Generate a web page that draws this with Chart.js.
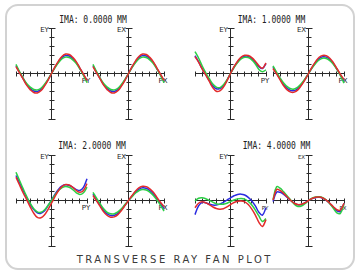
<!DOCTYPE html>
<html>
<head>
<meta charset="utf-8">
<script src="https://cdn.jsdelivr.net/npm/chart.js@4.4.0/dist/chart.umd.min.js"></script>
<style>
html, body { margin: 0; padding: 0; background: #fff; }
#wrap { position: relative; width: 360px; height: 273px; overflow: hidden; }
#frame { position: absolute; left: 5px; top: 4px; width: 346px; height: 262px; border: 2px solid #d2d2d2; border-radius: 13px; }
.t { position: absolute; white-space: nowrap; color: #222; transform: translate(-50%, -50%); line-height: 1; }
.ima { font: 8px "DejaVu Sans Mono"; transform: translate(-50%, -50%) scaleY(1.4); }
.ax { font: 7px "DejaVu Sans"; }
.ax.small { font-size: 5.5px; }
.title { font: 10px "DejaVu Sans"; letter-spacing: 2.5px; padding-left: 2.5px; color: #3a3a3a; }
canvas { position: absolute; z-index: 1; }
</style>
</head>
<body>
<div id="wrap">
  <div id="frame"></div>
</div>
<script>
// pupil coordinate (axis ticks -5..5)
const PUPIL = [-5, -4.5, -4, -3.5, -3, -2.5, -2, -1.5, -1, -0.5, 0, 0.5, 1, 1.5, 2, 2.5, 3, 3.5, 4, 4.5, 5];

// IMA 0.0000 MM (EY and EX look the same)
const ima0Red   = [0.75, 0.07, -0.6, -1.28, -1.77, -2.09, -2.14, -1.9, -1.39, -0.75, 0, 0.75, 1.39, 1.9, 2.14, 2.09, 1.77, 1.28, 0.6, -0.07, -0.75];
const ima0Green = [1.0, 0.2, -0.5, -1.1, -1.5, -1.75, -1.8, -1.62, -1.2, -0.65, 0, 0.65, 1.2, 1.62, 1.8, 1.75, 1.5, 1.1, 0.5, -0.2, -1.0];
const ima0Blue  = [0.85, 0.12, -0.55, -1.2, -1.65, -1.92, -1.97, -1.77, -1.3, -0.7, 0, 0.7, 1.3, 1.77, 1.97, 1.92, 1.65, 1.2, 0.55, -0.12, -0.85];

// IMA 1.0000 MM
const ima1EyRed   = [1.85, 1.25, 0.5, -0.15, -0.85, -1.55, -1.95, -1.9, -1.5, -0.8, 0, 0.75, 1.35, 1.8, 2.0, 1.98, 1.75, 1.35, 0.85, 0.58, 1.15];
const ima1EyGreen = [2.4, 1.7, 0.85, 0.1, -0.55, -1.15, -1.5, -1.55, -1.25, -0.7, 0, 0.65, 1.2, 1.6, 1.78, 1.75, 1.5, 1.05, 0.45, 0.2, 0.4];
const ima1EyBlue  = [1.95, 1.3, 0.55, -0.1, -0.75, -1.35, -1.68, -1.65, -1.35, -0.75, 0, 0.7, 1.3, 1.72, 1.9, 1.88, 1.62, 1.2, 0.75, 0.55, 1.1];
const ima1ExRed   = [0.55, -0.05, -0.7, -1.35, -1.8, -2.05, -2.05, -1.8, -1.3, -0.7, 0, 0.7, 1.3, 1.78, 1.98, 1.95, 1.68, 1.2, 0.55, -0.1, -0.65];
const ima1ExGreen = [0.85, 0.15, -0.5, -1.05, -1.45, -1.68, -1.7, -1.5, -1.1, -0.6, 0, 0.6, 1.1, 1.5, 1.68, 1.65, 1.42, 1.02, 0.45, -0.25, -1.05];
const ima1ExBlue  = [0.7, 0.05, -0.6, -1.2, -1.62, -1.86, -1.88, -1.65, -1.2, -0.65, 0, 0.65, 1.2, 1.64, 1.83, 1.8, 1.55, 1.1, 0.5, -0.17, -0.85];

// IMA 2.0000 MM
const ima2EyRed   = [2.56, 1.7, 0.85, 0.1, -0.7, -1.4, -1.85, -1.9, -1.6, -1.0, -0.3, 0.45, 1.1, 1.55, 1.75, 1.7, 1.45, 1.1, 0.9, 1.1, 1.85];
const ima2EyGreen = [3.1, 2.2, 1.3, 0.45, -0.3, -0.9, -1.25, -1.3, -1.05, -0.55, 0, 0.6, 1.1, 1.42, 1.55, 1.45, 1.2, 0.85, 0.66, 0.85, 1.46];
const ima2EyBlue  = [2.75, 1.95, 1.1, 0.35, -0.4, -1.0, -1.35, -1.4, -1.15, -0.6, 0.05, 0.7, 1.25, 1.6, 1.72, 1.65, 1.45, 1.2, 1.1, 1.45, 2.4];
const ima2ExRed   = [0.55, -0.05, -0.65, -1.25, -1.65, -1.83, -1.8, -1.55, -1.1, -0.57, 0, 0.55, 1.05, 1.42, 1.57, 1.52, 1.28, 0.9, 0.35, -0.2, -0.66];
const ima2ExGreen = [0.9, 0.25, -0.35, -0.9, -1.3, -1.46, -1.45, -1.25, -0.9, -0.45, 0, 0.42, 0.82, 1.1, 1.2, 1.15, 0.92, 0.55, 0.05, -0.5, -1.17];
const ima2ExBlue  = [0.7, 0.08, -0.5, -1.08, -1.48, -1.65, -1.63, -1.4, -1.0, -0.5, 0, 0.48, 0.93, 1.26, 1.4, 1.34, 1.1, 0.72, 0.2, -0.35, -0.9];

// IMA 4.0000 MM
const ima4EyRed   = [-0.8, -0.3, -0.15, -0.25, -0.45, -0.7, -0.88, -0.95, -0.9, -0.7, -0.45, -0.22, -0.08, -0.05, -0.15, -0.45, -0.95, -1.6, -2.4, -2.85, -2.1];
const ima4EyGreen = [-0.05, 0.25, 0.3, 0.2, 0.02, -0.18, -0.35, -0.42, -0.4, -0.3, -0.12, 0.05, 0.18, 0.22, 0.15, -0.1, -0.5, -1.05, -1.7, -2.3, -2.0];
const ima4EyBlue  = [-1.55, -0.6, -0.2, -0.25, -0.4, -0.5, -0.5, -0.4, -0.2, 0.05, 0.3, 0.52, 0.67, 0.7, 0.6, 0.35, -0.05, -0.6, -1.3, -1.6, -0.8];
const ima4ExRed   = [0.05, 1.2, 1.1, 0.78, 0.38, 0.0, -0.3, -0.45, -0.42, -0.25, 0, 0.22, 0.35, 0.38, 0.28, 0.05, -0.3, -0.68, -1.02, -1.05, -0.3];
const ima4ExGreen = [0.1, 1.5, 1.35, 0.95, 0.5, 0.05, -0.4, -0.65, -0.6, -0.35, 0, 0.25, 0.38, 0.4, 0.3, 0.05, -0.35, -0.85, -1.35, -1.4, -0.4];
const ima4ExBlue  = [-0.1, 0.9, 0.9, 0.68, 0.35, 0.0, -0.3, -0.48, -0.45, -0.25, 0, 0.2, 0.33, 0.35, 0.25, 0.02, -0.32, -0.75, -1.15, -1.2, -0.3];

const RED = '#e32b2b';
const GREEN = '#2ccf45';
const BLUE = '#2b2be0';

// cx, cy = pixel where the two axes cross
const plots = [
  { cx: 51,  cy: 73,  axis: 'EY', fan: 'PY', red: ima0Red,   green: ima0Green,   blue: ima0Blue },
  { cx: 128, cy: 73,  axis: 'EX', fan: 'PX', red: ima0Red,   green: ima0Green,   blue: ima0Blue },
  { cx: 230, cy: 73,  axis: 'EY', fan: 'PY', red: ima1EyRed, green: ima1EyGreen, blue: ima1EyBlue },
  { cx: 308, cy: 73,  axis: 'EX', fan: 'PX', red: ima1ExRed, green: ima1ExGreen, blue: ima1ExBlue },
  { cx: 51,  cy: 200, axis: 'EY', fan: 'PY', red: ima2EyRed, green: ima2EyGreen, blue: ima2EyBlue },
  { cx: 128, cy: 200, axis: 'EX', fan: 'PX', red: ima2ExRed, green: ima2ExGreen, blue: ima2ExBlue },
  { cx: 230, cy: 200, axis: 'EY', fan: 'PY', red: ima4EyRed, green: ima4EyGreen, blue: ima4EyBlue, small: true },
  { cx: 308, cy: 200, axis: 'EX', fan: 'PX', red: ima4ExRed, green: ima4ExGreen, blue: ima4ExBlue, small: true }
];

const titles = [
  { text: 'IMA: 0.0000 MM', x: 93, y: 18.5 },
  { text: 'IMA: 1.0000 MM', x: 271.5, y: 18.5 },
  { text: 'IMA: 2.0000 MM', x: 92, y: 144.5 },
  { text: 'IMA: 4.0000 MM', x: 276.5, y: 144.5 }
];

const PAD = 8;
const HALF_W = 35.5;
const HALF_H = 45.5;

// draws the cross-shaped axes with ticks, behind the curves
const crossAxes = {
  id: 'crossAxes',
  beforeDatasetsDraw(chart) {
    const ctx = chart.ctx;
    const x = chart.scales.x, y = chart.scales.y;
    const x0 = Math.floor(x.getPixelForValue(0)) + 0.5;
    const y0 = Math.floor(y.getPixelForValue(0)) + 0.5;
    ctx.save();
    ctx.strokeStyle = '#2a2a2a';
    ctx.lineWidth = 1;
    ctx.beginPath();
    ctx.moveTo(x.getPixelForValue(-5), y0);
    ctx.lineTo(x.getPixelForValue(5), y0);
    ctx.moveTo(x0, y.getPixelForValue(5));
    ctx.lineTo(x0, y.getPixelForValue(-5));
    for (let i = -5; i <= 5; i++) {
      if (i === 0) continue;
      const px = Math.floor(x.getPixelForValue(i)) + 0.5;
      ctx.moveTo(px, y0 - 2);
      ctx.lineTo(px, y0 + 3);
      const py = Math.floor(y.getPixelForValue(i)) + 0.5;
      const w = Math.abs(i) === 5 ? 3 : 2;
      ctx.moveTo(x0 - w, py);
      ctx.lineTo(x0 + w + 1, py);
    }
    ctx.stroke();
    ctx.restore();
  }
};

const wrap = document.getElementById('wrap');

function addText(cls, text, x, y) {
  const d = document.createElement('div');
  d.className = 't ' + cls;
  d.textContent = text;
  d.style.left = x + 'px';
  d.style.top = y + 'px';
  wrap.appendChild(d);
}

titles.forEach(t => addText('ima', t.text, t.x, t.y));
addText('title', 'TRANSVERSE RAY FAN PLOT', 173.5, 259);

function series(vals, color) {
  return {
    data: PUPIL.map((p, i) => ({ x: p, y: vals[i] })),
    showLine: true,
    borderColor: color,
    borderWidth: 1.5,
    pointRadius: 0,
    tension: 0.4,
    clip: false
  };
}

plots.forEach(p => {
  const c = document.createElement('canvas');
  const w = 2 * HALF_W + 2 * PAD, h = 2 * HALF_H + 2 * PAD;
  c.width = w;
  c.height = h;
  c.style.width = w + 'px';
  c.style.height = h + 'px';
  c.style.left = (p.cx - 35 - PAD) + 'px';
  c.style.top = (p.cy - 45 - PAD) + 'px';
  wrap.appendChild(c);

  addText('ax' + (p.small && p.axis === 'EX' ? ' small' : ''), p.axis, p.cx - 6.5, p.cy - 43);
  addText('ax' + (p.small ? ' small' : ''), p.fan, p.cx + 35, p.cy + 7.5);

  // first dataset is drawn on top: red over green over blue
  new Chart(c, {
    type: 'scatter',
    data: { datasets: [series(p.red, RED), series(p.green, GREEN), series(p.blue, BLUE)] },
    options: {
      responsive: false,
      animation: false,
      events: [],
      layout: { padding: PAD },
      scales: {
        x: { type: 'linear', min: -5, max: 5, display: false },
        y: { type: 'linear', min: -5, max: 5, display: false }
      },
      plugins: { legend: { display: false }, tooltip: { enabled: false } }
    },
    plugins: [crossAxes]
  });
});
</script>
</body>
</html>
